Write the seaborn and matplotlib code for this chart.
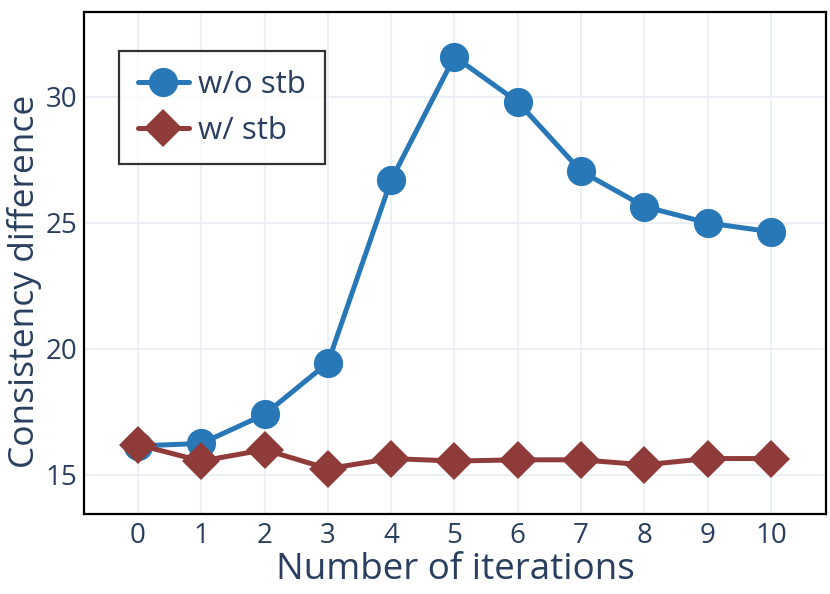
import matplotlib
matplotlib.use("Agg")
import matplotlib.pyplot as plt
import seaborn as sns
import pandas as pd

iterations = [0, 1, 2, 3, 4, 5, 6, 7, 8, 9, 10]
wo_stb = [16.15, 16.25, 17.4, 19.45, 26.7, 31.6, 29.8, 27.05, 25.65, 25.0, 24.65]
w_stb = [16.2, 15.55, 16.0, 15.25, 15.65, 15.55, 15.6, 15.6, 15.4, 15.65, 15.65]
series_names = ["w/o stb", "w/ stb"]
x_ticks = [0, 1, 2, 3, 4, 5, 6, 7, 8, 9, 10]
y_ticks = [15, 20, 25, 30]

sns.set_style("white")
plt.rcParams['font.family'] = ['Open Sans', 'DejaVu Sans']

text_color = "#2a3f5f"
blue = "#2878b8"
red = "#8f3b3a"

df = pd.DataFrame({"x": iterations, "wo": wo_stb, "w": w_stb})

fig = plt.figure(figsize=(8.3, 5.94), dpi=100)
ax = fig.add_axes([0.1012, 0.1347, 0.8940, 0.8451])

sns.lineplot(data=df, x="x", y="wo", ax=ax, color=blue, linewidth=3.6,
             marker="o", markersize=21, markeredgewidth=0, label=series_names[0], zorder=3)
sns.lineplot(data=df, x="x", y="w", ax=ax, color=red, linewidth=3.6,
             marker="D", markersize=19, markeredgewidth=0, label=series_names[1], zorder=4)

ax.set_xlim(-0.853, 10.87)
ax.set_ylim(13.45, 33.37)
ax.set_xticks(x_ticks)
ax.set_yticks(y_ticks)
ax.grid(True, color="#e8eef6", linewidth=1.2)
ax.set_axisbelow(True)
for s in ax.spines.values():
    s.set_color("black")
    s.set_linewidth(1.6)
ax.tick_params(axis="both", length=0, labelsize=20, colors=text_color)
ax.tick_params(axis="y", pad=5)
ax.tick_params(axis="x", pad=6)
ax.set_xlabel("Number of iterations", fontsize=26.5, color=text_color, labelpad=1)
ax.set_ylabel("Consistency difference", fontsize=25.5, color=text_color)
ax.yaxis.set_label_coords(-0.057, 0.464)

leg = ax.legend(loc="upper left", bbox_to_anchor=(0.047, 0.922), fontsize=22.5,
                frameon=True, fancybox=False, handlelength=1.65, borderpad=0.6,
                labelspacing=0.5, handletextpad=0.28, borderaxespad=0)
leg.get_frame().set_edgecolor("black")
leg.get_frame().set_linewidth(1.6)
for t in leg.get_texts():
    t.set_color(text_color)

fig.savefig("out.png", dpi=100)
